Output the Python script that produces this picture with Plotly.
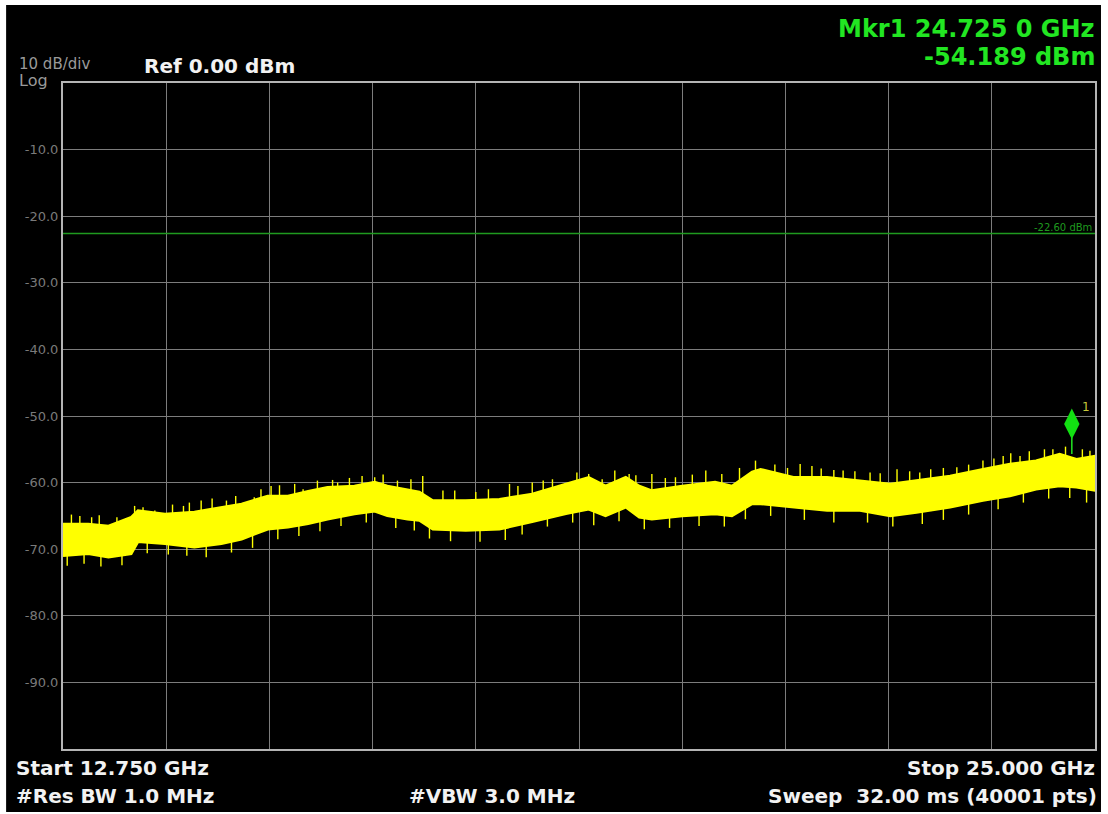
import plotly.graph_objects as go

# ---------------- data ----------------
start_ghz = 12.75
stop_ghz = 25.0

# trace band envelope (frequency GHz, upper / lower edge of noise band in dBm)
freq_ghz = [12.75, 13.05, 13.29, 13.56, 13.64, 13.96, 14.31, 14.63, 14.87, 15.18,
            15.42, 15.66, 15.89, 16.21, 16.45, 16.60, 16.84, 16.98, 17.14, 17.53,
            17.93, 18.32, 18.72, 18.99, 19.19, 19.43, 19.59, 19.74, 20.10, 20.49,
            20.69, 20.93, 21.03, 21.42, 21.82, 22.21, 22.57, 22.88, 23.28, 23.67,
            23.99, 24.30, 24.58, 24.78, 25.00]
top_dbm = [-66.2, -66.2, -66.5, -65.2, -64.2, -64.7, -64.4, -63.7, -63.2, -62.0,
           -62.0, -61.3, -60.7, -60.5, -59.9, -60.5, -61.0, -61.4, -62.7, -62.7,
           -62.5, -61.7, -60.2, -59.2, -60.5, -59.2, -60.5, -61.2, -60.5, -59.9,
           -60.5, -58.4, -58.0, -59.2, -59.2, -59.7, -60.2, -59.7, -59.0, -58.0,
           -57.2, -56.7, -55.7, -56.5, -56.0]
bottom_dbm = [-71.0, -70.7, -71.2, -70.7, -68.9, -69.2, -69.7, -69.2, -68.5, -67.0,
              -66.7, -66.2, -65.5, -64.7, -64.3, -65.0, -65.5, -65.7, -67.0, -67.2,
              -67.0, -65.9, -64.7, -64.0, -65.0, -63.7, -65.2, -65.5, -65.0, -64.7,
              -65.0, -63.2, -63.2, -63.7, -64.2, -64.2, -65.0, -64.5, -63.7, -62.7,
              -62.0, -61.0, -60.5, -60.7, -61.2]

# noise spikes standing above the band (GHz, peak dBm)
spike_up_freq = [12.85, 12.95, 13.09, 13.18, 13.39, 13.50, 13.60, 13.70, 13.84, 14.05,
                 14.18, 14.25, 14.39, 14.52, 14.69, 14.80, 15.02, 15.10, 15.22, 15.32,
                 15.50, 15.60, 15.77, 15.95, 16.01, 16.15, 16.30, 16.45, 16.55, 16.72,
                 16.88, 17.02, 17.26, 17.40, 17.65, 17.80, 18.05, 18.15, 18.32, 18.45,
                 18.56, 18.85, 18.99, 19.15, 19.30, 19.47, 19.55, 19.74, 19.90, 20.02,
                 20.22, 20.38, 20.57, 20.78, 20.97, 21.20, 21.35, 21.50, 21.64, 21.75,
                 21.90, 22.01, 22.15, 22.33, 22.45, 22.65, 22.80, 22.92, 23.05, 23.20,
                 23.36, 23.50, 23.67, 23.80, 23.91, 24.00, 24.11, 24.22, 24.40, 24.50,
                 24.65, 24.85, 24.94]
spike_up_dbm = [-64.8, -65.0, -65.2, -64.9, -65.2, -65.3, -63.5, -63.7, -64.2, -63.3,
                -63.5, -63.0, -62.7, -62.4, -62.7, -62.0, -62.2, -61.0, -60.5, -60.4,
                -60.2, -61.0, -59.7, -59.6, -60.0, -59.3, -59.0, -59.2, -58.8, -59.7,
                -59.5, -59.0, -61.2, -61.2, -61.4, -61.0, -60.2, -60.5, -60.0, -59.7,
                -59.5, -58.5, -58.7, -59.5, -58.2, -58.7, -58.9, -58.7, -59.3, -59.2,
                -58.8, -58.2, -58.7, -57.8, -56.7, -57.3, -57.8, -57.2, -57.5, -57.9,
                -58.1, -58.2, -58.3, -58.5, -58.6, -58.0, -58.3, -58.5, -58.0, -57.8,
                -57.7, -57.3, -56.7, -56.4, -56.0, -55.6, -56.0, -55.3, -55.0, -55.0,
                -54.6, -55.0, -55.2]

# noise dips reaching below the band (GHz, lowest dBm)
spike_down_freq = [12.80, 13.00, 13.20, 13.45, 13.75, 14.00, 14.22, 14.45, 14.75, 15.00,
                   15.30, 15.55, 15.80, 16.05, 16.35, 16.70, 16.92, 17.10, 17.35, 17.70,
                   18.00, 18.20, 18.50, 18.80, 19.05, 19.35, 19.65, 19.95, 20.30, 20.60,
                   20.85, 21.15, 21.55, 21.90, 22.30, 22.60, 22.95, 23.20, 23.50, 23.85,
                   24.15, 24.45, 24.70, 24.90]
spike_down_dbm = [-72.5, -72.2, -72.6, -72.4, -70.6, -70.8, -71.0, -71.2, -70.5, -69.8,
                  -68.5, -68.0, -67.3, -66.5, -66.0, -66.8, -67.2, -68.4, -68.8, -68.9,
                  -68.6, -67.8, -66.6, -66.0, -66.4, -65.8, -67.0, -66.8, -66.5, -66.6,
                  -65.5, -65.0, -65.6, -66.0, -66.0, -66.6, -66.2, -65.6, -64.8, -64.0,
                  -63.0, -62.4, -62.3, -63.0]

marker_freq = 24.725
marker_dbm = -54.189
limit_dbm = -22.6

y_ticks = [-10, -20, -30, -40, -50, -60, -70, -80, -90]
y_tick_text = ["-10.0", "-20.0", "-30.0", "-40.0", "-50.0", "-60.0", "-70.0", "-80.0", "-90.0"]

# ---------------- layout geometry ----------------
W, H = 1108, 814
L, R, T, B = 63, 11, 83, 65
PW, PH = W - L - R, H - T - B


def px(x):
    return (x - L) / PW


def py(y):
    return (H - B - y) / PH


YELLOW = "#ffff00"
GREEN = "#22e622"
DIMGREEN = "#1f9a1f"
FONT = "DejaVu Sans"

fig = go.Figure()

# limit line
fig.add_trace(go.Scatter(x=[start_ghz, stop_ghz], y=[limit_dbm, limit_dbm], mode="lines",
                         line=dict(color=DIMGREEN, width=1.5), hoverinfo="skip"))

# noise band
band_x = freq_ghz + freq_ghz[::-1]
band_y = top_dbm + bottom_dbm[::-1]
fig.add_trace(go.Scatter(x=band_x, y=band_y, mode="lines", fill="toself",
                         fillcolor=YELLOW, line=dict(color=YELLOW, width=2.5),
                         hoverinfo="skip"))

# spikes above and below the band
sx, sy = [], []
for f, v in zip(spike_up_freq, spike_up_dbm):
    sx += [f, f, None]
    sy += [v, v - 3.0, None]
for f, v in zip(spike_down_freq, spike_down_dbm):
    sx += [f, f, None]
    sy += [v, v + 3.0, None]
fig.add_trace(go.Scatter(x=sx, y=sy, mode="lines", line=dict(color=YELLOW, width=1.4),
                         hoverinfo="skip"))

# marker stem and diamond
fig.add_trace(go.Scatter(x=[marker_freq, marker_freq], y=[marker_dbm - 1.5, marker_dbm + 1],
                         mode="lines", line=dict(color=GREEN, width=1.5), hoverinfo="skip"))
fig.add_trace(go.Scatter(x=[marker_freq], y=[marker_dbm + 3.0], mode="markers",
                         marker=dict(symbol="diamond-tall", size=22, color="#12e012",
                                     line=dict(width=0)),
                         hoverinfo="skip"))

fig.update_layout(
    width=W, height=H,
    margin=dict(l=L, r=R, t=T, b=B, pad=0),
    paper_bgcolor="white",
    plot_bgcolor="black",
    showlegend=False,
    font=dict(family=FONT),
)

fig.update_xaxes(range=[start_ghz, stop_ghz], tick0=start_ghz, dtick=(stop_ghz - start_ghz) / 10,
                 showticklabels=False, ticks="", showgrid=True, gridcolor="#7c7c7c", gridwidth=1,
                 zeroline=False, showline=True, mirror=True, linecolor="#b4b4b4", linewidth=2)
fig.update_yaxes(range=[-100, 0], tickmode="array", tickvals=y_ticks, ticktext=y_tick_text,
                 tickfont=dict(family=FONT, size=13, color="#7a7a7a"), ticks="",
                 showgrid=True, gridcolor="#7c7c7c", gridwidth=1, zeroline=False,
                 showline=True, mirror=True, linecolor="#b4b4b4", linewidth=2)

# black screen background with a thin white border
fig.add_shape(type="rect", xref="paper", yref="paper",
              x0=px(6), x1=px(1103), y0=py(812), y1=py(5),
              fillcolor="black", line=dict(width=0), layer="below")


def note(text, x, y, size, color, xanchor="left", bold=True):
    fig.add_annotation(text=f"<b>{text}</b>" if bold else text, x=px(x), y=py(y),
                       xref="paper", yref="paper", showarrow=False,
                       xanchor=xanchor, yanchor="middle",
                       font=dict(family=FONT, size=size, color=color))


note("10 dB/div", 17, 64, 15, "#9a9a9a", bold=False)
note("Log", 17, 80, 16, "#9a9a9a", bold=False)
note("Ref 0.00 dBm", 142, 66, 20, "#f2f2f2")
note("Mkr1 24.725 0 GHz", 1099, 29, 24, GREEN, xanchor="right")
note("-54.189 dBm", 1099, 57, 24, GREEN, xanchor="right")
note(f"{limit_dbm:.2f} dBm", 1096, 227, 10, DIMGREEN, xanchor="right", bold=False)
note("1", 1082, 407, 12, "#c8c83a", bold=False)
note("Start 12.750 GHz", 14, 768, 20, "#f2f2f2")
note("#Res BW 1.0 MHz", 14, 796, 20, "#f2f2f2")
note("#VBW 3.0 MHz", 408, 796, 20, "#f2f2f2")
note("Stop 25.000 GHz", 1099, 768, 20, "#f2f2f2", xanchor="right")
note("Sweep  32.00 ms (40001 pts)", 1101, 796, 20, "#f2f2f2", xanchor="right")

fig.write_html("out.html", config={"displayModeBar": False},
               post_script="document.body.style.margin='0';")
